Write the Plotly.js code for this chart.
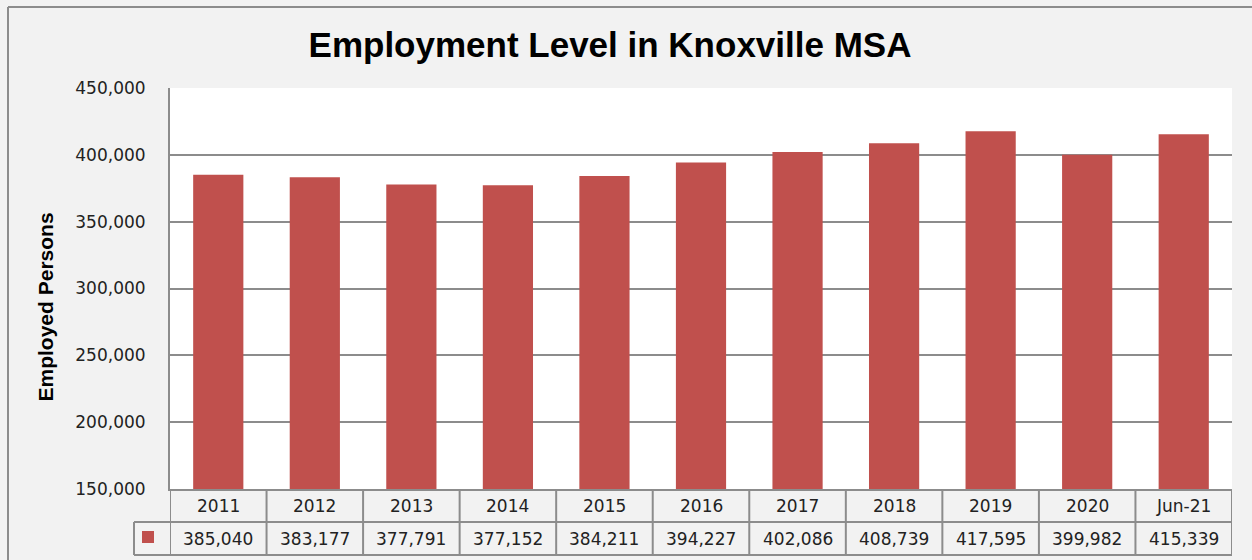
<!DOCTYPE html>
<html>
<head>
<meta charset="utf-8">
<script src="https://cdn.plot.ly/plotly-3.0.1.min.js"></script>
<style>html,body{margin:0;padding:0;background:#f2f2f2;}#chart{width:1252px;height:560px;}</style>
</head>
<body>
<div id="chart"></div>
<script>
const categories = ["2011","2012","2013","2014","2015","2016","2017","2018","2019","2020","Jun-21"];
const employed = [385040,383177,377791,377152,384211,394227,402086,408739,417595,399982,415339];
const yTicks = [150000,200000,250000,300000,350000,400000,450000];
const chartTitle = "Employment Level in Knoxville MSA";
const yTitle = "Employed Persons";

const W = 1252, H = 560;
const L = 170, R = 20, T = 88, B = 71;
const pw = W - L - R, ph = H - T - B;
const px = v => (v - L) / pw;           // pixel x -> paper
const py = v => (H - B - v) / ph;       // pixel y -> paper

const barColor = "#c0504d";
const lineColor = "#8c8c8c";
const fmt = v => v.toLocaleString("en-US");

const shapes = [];
const annotations = [];

// outer frame
shapes.push({type:"line", xref:"paper", yref:"paper", x0:px(8), x1:px(1260), y0:py(7), y1:py(7), line:{color:lineColor, width:2}});
shapes.push({type:"line", xref:"paper", yref:"paper", x0:px(8), x1:px(8), y0:py(7), y1:py(570), line:{color:lineColor, width:2}});

// data table horizontal lines
shapes.push({type:"line", xref:"paper", yref:"paper", x0:px(134), x1:1, y0:py(522), y1:py(522), line:{color:lineColor, width:2}});
shapes.push({type:"line", xref:"paper", yref:"paper", x0:px(134), x1:1, y0:py(555), y1:py(555), line:{color:lineColor, width:2}});
shapes.push({type:"line", xref:"paper", yref:"paper", x0:px(134), x1:px(134), y0:py(522), y1:py(555), line:{color:lineColor, width:2}});
// column separators
for (let i = 0; i <= categories.length; i++) {
  shapes.push({type:"line", xref:"x", yref:"paper", x0:i-0.5, x1:i-0.5, y0:0, y1:py(555), line:{color:lineColor, width:2}});
}
// legend key
shapes.push({type:"rect", xref:"paper", yref:"paper", x0:px(142), x1:px(154), y0:py(543), y1:py(531), fillcolor:barColor, line:{width:0}});

const tableFont = {family:"DejaVu Sans", size:17, color:"#222"};
categories.forEach((c, i) => {
  annotations.push({xref:"x", yref:"paper", x:i, y:py(506), text:c, showarrow:false, font:tableFont, xanchor:"center", yanchor:"middle"});
  annotations.push({xref:"x", yref:"paper", x:i, y:py(538.5), text:fmt(employed[i]), showarrow:false, font:tableFont, xanchor:"center", yanchor:"middle"});
});

// y-axis title
annotations.push({xref:"paper", yref:"paper", x:px(45), y:py(307.5), text:"<b>"+yTitle+"</b>", textangle:-90, showarrow:false,
  font:{family:"Liberation Sans, Arial", size:21, color:"#000"}, xanchor:"center", yanchor:"middle"});

const trace = {
  type:"bar", x:categories, y:employed, marker:{color:barColor}, hoverinfo:"x+y"
};

const layout = {
  width:W, height:H,
  margin:{l:L, r:R, t:T, b:B, pad:0},
  paper_bgcolor:"#f2f2f2", plot_bgcolor:"#ffffff",
  title:{text:"<b>"+chartTitle+"</b>", x:610/W, xref:"container", xanchor:"center", y:1-45/H, yref:"container", yanchor:"middle",
    font:{family:"Liberation Sans, Arial", size:35, color:"#000"}},
  bargap:0.48,
  showlegend:false,
  xaxis:{type:"category", range:[-0.5, categories.length-0.5], showticklabels:false, ticks:"", showgrid:false,
    showline:true, linecolor:lineColor, linewidth:2, zeroline:false, fixedrange:true},
  yaxis:{range:[150000,450000], tickvals:yTicks, ticktext:yTicks.map(fmt), showgrid:true, gridcolor:lineColor, gridwidth:2,
    showline:true, linecolor:lineColor, linewidth:2, zeroline:false, ticks:"", ticklabelstandoff:19,
    tickfont:{family:"DejaVu Sans", size:17, color:"#222"}, fixedrange:true},
  shapes:shapes,
  annotations:annotations
};

Plotly.newPlot("chart", [trace], layout, {displayModeBar:false, staticPlot:true});
</script>
</body>
</html>
